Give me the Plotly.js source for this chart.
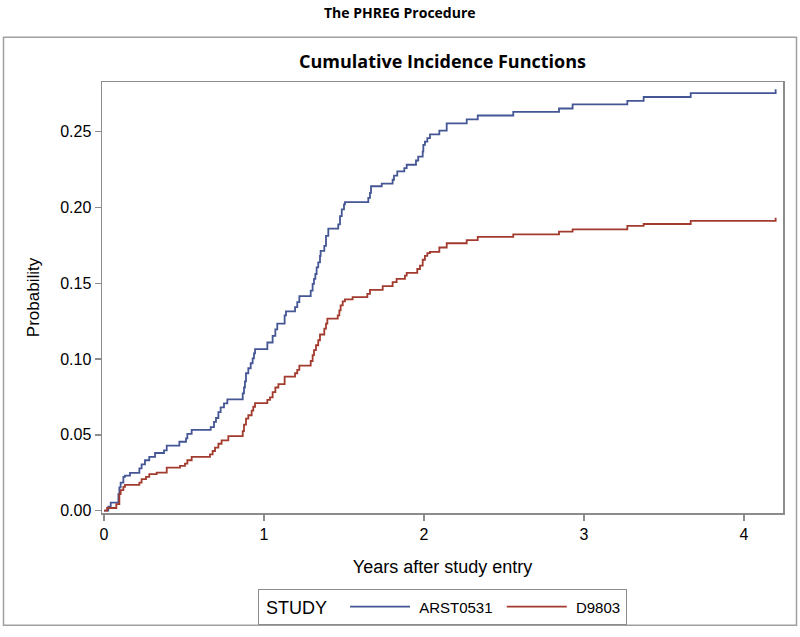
<!DOCTYPE html>
<html>
<head>
<meta charset="utf-8">
<script src="https://cdn.plot.ly/plotly-3.0.1.min.js"></script>
<style>
  html, body { margin: 0; padding: 0; background: #ffffff; }
  #chart { width: 800px; height: 637px; }
</style>
</head>
<body>
<div id="chart"></div>
<script>
// ---- data ----
const studies = ["ARST0531", "D9803"];

const timeARST0531 = [0, 0.027, 0.042, 0.090, 0.096, 0.104, 0.121, 0.131, 0.1625, 0.221, 0.235, 0.256, 0.283, 0.319, 0.375, 0.392, 0.471, 0.5125, 0.521, 0.548, 0.667, 0.6875, 0.70, 0.715, 0.729, 0.75, 0.771, 0.867, 0.875, 0.881, 0.8875, 0.902, 0.917, 0.929, 0.9375, 0.944, 1.021, 1.054, 1.071, 1.083, 1.129, 1.1375, 1.194, 1.208, 1.221, 1.292, 1.304, 1.3125, 1.321, 1.329, 1.339, 1.35, 1.354, 1.377, 1.3875, 1.402, 1.464, 1.475, 1.486, 1.5, 1.506, 1.652, 1.6625, 1.669, 1.736, 1.804, 1.8125, 1.833, 1.877, 1.892, 1.95, 1.964, 1.992, 1.996, 2.006, 2.021, 2.0375, 2.096, 2.142, 2.267, 2.336, 2.558, 2.844, 2.929, 3.271, 3.373, 3.667, 4.198];
const cifARST0531 = [0, 0.0026, 0.0052, 0.0109, 0.0153, 0.0185, 0.0223, 0.0231, 0.0249, 0.0279, 0.0305, 0.0332, 0.0354, 0.038, 0.0397, 0.0428, 0.0454, 0.0476, 0.0506, 0.0533, 0.055, 0.0585, 0.0611, 0.065, 0.0681, 0.0708, 0.0734, 0.0773, 0.0812, 0.0852, 0.0906, 0.0939, 0.0972, 0.1004, 0.1037, 0.1065, 0.1109, 0.1153, 0.1196, 0.1234, 0.1288, 0.1314, 0.1343, 0.1376, 0.1415, 0.1452, 0.1496, 0.1529, 0.1561, 0.1605, 0.1638, 0.1681, 0.1714, 0.1747, 0.1812, 0.1861, 0.1889, 0.1943, 0.1987, 0.202, 0.2035, 0.2064, 0.2096, 0.214, 0.2157, 0.2183, 0.221, 0.2238, 0.226, 0.2282, 0.231, 0.2336, 0.2369, 0.2413, 0.2434, 0.2457, 0.2483, 0.2507, 0.2555, 0.2581, 0.2607, 0.2631, 0.2653, 0.268, 0.2703, 0.2729, 0.2755, 0.278];

const timeD9803 = [0, 0.019, 0.077, 0.096, 0.104, 0.121, 0.131, 0.221, 0.235, 0.2625, 0.283, 0.329, 0.392, 0.475, 0.506, 0.521, 0.548, 0.6625, 0.679, 0.694, 0.715, 0.735, 0.777, 0.867, 0.875, 0.8875, 0.902, 0.923, 0.933, 0.944, 1.021, 1.0375, 1.054, 1.071, 1.09, 1.129, 1.194, 1.208, 1.221, 1.292, 1.304, 1.3125, 1.325, 1.339, 1.35, 1.377, 1.3875, 1.396, 1.461, 1.471, 1.479, 1.492, 1.506, 1.554, 1.646, 1.6625, 1.742, 1.804, 1.829, 1.881, 1.892, 1.958, 1.975, 1.992, 2.006, 2.021, 2.0375, 2.096, 2.142, 2.267, 2.336, 2.558, 2.844, 2.929, 3.271, 3.373, 3.667, 4.198];
const cifD9803 = [0, 0.0017, 0.0043, 0.0109, 0.0135, 0.0157, 0.017, 0.0185, 0.0207, 0.0223, 0.024, 0.0251, 0.0284, 0.0295, 0.031, 0.0332, 0.0354, 0.0371, 0.0393, 0.0415, 0.0441, 0.0463, 0.0491, 0.0524, 0.0567, 0.0607, 0.0629, 0.0659, 0.0685, 0.0709, 0.0731, 0.0747, 0.0782, 0.0812, 0.0834, 0.0884, 0.0906, 0.0928, 0.0957, 0.0987, 0.1026, 0.1059, 0.1091, 0.1124, 0.1162, 0.1201, 0.1234, 0.1266, 0.1288, 0.1321, 0.1354, 0.138, 0.1393, 0.1409, 0.143, 0.1456, 0.1481, 0.1507, 0.1529, 0.155, 0.1568, 0.1594, 0.1616, 0.1655, 0.1681, 0.1699, 0.1707, 0.1736, 0.1764, 0.1784, 0.1806, 0.1823, 0.1841, 0.1856, 0.1878, 0.1891, 0.1911, 0.1933];

const xTicks = [0, 1, 2, 3, 4];
const xTickLabels = ["0", "1", "2", "3", "4"];
const yTicks = [0, 0.05, 0.10, 0.15, 0.20, 0.25];
const yTickLabels = ["0.00", "0.05", "0.10", "0.15", "0.20", "0.25"];

// ---- styling ----
const colors = ["#445694", "#A23A2E"];
const frameColor = "#8c8c8c";
const textFont = "Liberation Sans, Arial, sans-serif";
const titleFont = "Open Sans, Liberation Sans, sans-serif";
const NB = "\u00A0";

const traces = [
  { x: timeARST0531, y: cifARST0531, name: NB + studies[0] + NB },
  { x: timeD9803, y: cifD9803, name: NB + studies[1] }
].map((t, i) => Object.assign(t, {
  type: "scatter",
  mode: "lines",
  line: { shape: "hv", color: colors[i], width: 1.8 },
  hoverinfo: "x+y+name"
}));

// plot area in pixels: x 102..783, y 82..516
const L = 102, R = 783, T = 82, B = 516;
const W = 800, H = 637;
const px2x = p => (p - L) / (R - L);
const px2y = p => (B - p) / (B - T);

const layout = {
  width: W, height: H,
  margin: { l: L, r: W - R, t: T, b: H - B, pad: 0 },
  paper_bgcolor: "#ffffff",
  plot_bgcolor: "#ffffff",
  showlegend: true,
  title: {
    text: "<b>Cumulative Incidence Functions</b>",
    font: { family: titleFont, size: 18, color: "#000000" },
    xref: "paper", x: 0.5, xanchor: "center",
    yref: "container", y: 1 - 62 / H, yanchor: "middle"
  },
  xaxis: {
    range: [-0.0125, 4.244],
    tickvals: xTicks, ticktext: xTickLabels,
    ticks: "outside", ticklen: 6, tickwidth: 1.5, tickcolor: frameColor,
    showline: true, mirror: true, linecolor: frameColor, linewidth: 1.5,
    showgrid: false, zeroline: false,
    tickfont: { family: textFont, size: 16, color: "#000000" },
    title: { text: "Years after study entry", font: { family: textFont, size: 18, color: "#000000" }, standoff: 18 }
  },
  yaxis: {
    range: [-0.0016, 0.2828],
    tickvals: yTicks, ticktext: yTickLabels,
    ticks: "outside", ticklen: 6, tickwidth: 1.5, tickcolor: frameColor,
    showline: true, mirror: true, linecolor: frameColor, linewidth: 1.5,
    showgrid: false, zeroline: false,
    tickfont: { family: textFont, size: 16, color: "#000000" },
    title: { text: "Probability", font: { family: textFont, size: 17, color: "#000000" }, standoff: 16 }
  },
  legend: {
    orientation: "h",
    x: 0.5, xanchor: "center",
    y: px2y(593), yanchor: "top",
    bordercolor: frameColor, borderwidth: 1,
    bgcolor: "#ffffff",
    font: { family: textFont, size: 15, color: "#000000" },
    title: { text: NB + "STUDY" + NB + NB, side: "left", font: { family: textFont, size: 18, color: "#000000" } },
    itemwidth: 60,
    traceorder: "normal"
  },
  shapes: [{
    type: "rect", xref: "paper", yref: "paper",
    x0: px2x(3.5), x1: px2x(796.5), y0: px2y(629), y1: px2y(37),
    line: { color: "#a0a0a0", width: 1.5 }, fillcolor: "rgba(0,0,0,0)", layer: "below"
  }],
  annotations: [{
    text: "<b>The PHREG Procedure</b>",
    xref: "paper", yref: "paper",
    x: px2x(400), y: px2y(12), xanchor: "center", yanchor: "middle",
    showarrow: false,
    font: { family: titleFont, size: 14, color: "#000000" }
  }]
};

Plotly.newPlot("chart", traces, layout, { displayModeBar: false, staticPlot: true });
</script>
</body>
</html>
